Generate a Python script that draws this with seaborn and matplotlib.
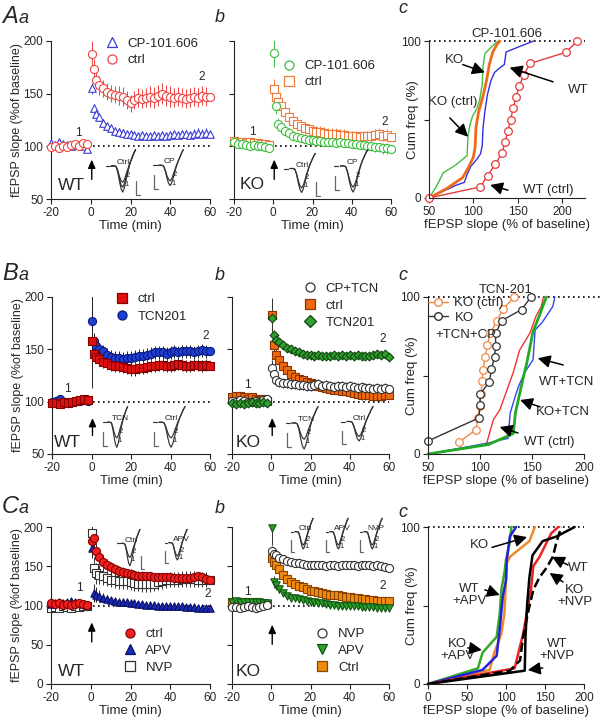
import numpy as np
import pandas as pd
import seaborn as sns
import matplotlib
matplotlib.use('Agg')
from matplotlib import pyplot as plt
from matplotlib.lines import Line2D

# ---------------- data: time courses (time in min, fEPSP slope in % of baseline) ----------------
T_BASE = [-20, -18, -16, -14, -12, -10, -8, -6, -4, -2]
T_POST = [0.5, 1.5, 2.5, 4, 6, 8, 10, 12, 14, 16, 18, 20, 22, 24, 26, 28, 30, 32, 34, 36, 38,
          40, 42, 44, 46, 48, 50, 52, 54, 56, 58, 60]
BASE_SEM = [2, 2, 2, 2, 2, 2, 2, 2, 2, 2]

# A a (WT): ctrl vs CP-101.606
Aa_ctrl_base = [99, 100, 98, 100, 99, 101, 102, 100, 103, 102]
Aa_ctrl_post = [188, 173, 163, 158, 155, 152, 150, 149, 148, 147, 144, 141, 144, 146, 145, 146,
                147, 146, 148, 150, 148, 147, 146, 147, 146, 145, 146, 147, 146, 148, 147, 147]
Aa_ctrl_sem = [12, 10, 9, 9, 8, 8, 8, 8, 9, 9, 9, 8, 9, 9, 9, 9, 10, 10, 10, 10, 10, 10, 9, 9,
               9, 9, 9, 9, 9, 9, 9, 9]
Aa_cp_base = [103, 101, 104, 102, 101, 100, 102, 101, 100, 97]
Aa_cp_post = [155, 136, 131, 128, 122, 119, 117, 115, 114, 113, 112, 112, 111, 110, 111, 110,
              110, 111, 110, 111, 110, 111, 112, 111, 112, 112, 111, 112, 113, 112, 113, 112]
Aa_cp_sem = [5, 4, 4, 3, 3, 3, 3, 3, 3, 3, 3, 3, 3, 3, 3, 3, 3, 3, 3, 3, 3, 3, 3, 3, 3, 3, 3,
             4, 4, 4, 4, 4]

# A b (KO)
Ab_cp_base = [104, 102, 102, 101, 100, 101, 100, 100, 99, 98]
Ab_cp_post = [189, 138, 121, 118, 115, 113, 110, 109, 108, 107, 106, 106, 105, 105, 104, 104,
              104, 103, 104, 103, 103, 102, 102, 101, 101, 100, 100, 99, 99, 98, 98, 97]
Ab_cp_sem = [14, 7, 6, 5, 4, 4, 4, 4, 4, 4, 4, 4, 4, 4, 4, 4, 4, 4, 4, 4, 4, 4, 4, 4, 4, 4, 4,
             4, 4, 5, 5, 5]
Ab_ctrl_base = [105, 104, 104, 103, 104, 103, 103, 102, 102, 101]
Ab_ctrl_post = [154, 147, 142, 138, 133, 128, 124, 121, 119, 117, 116, 115, 114, 114, 113, 112,
                112, 112, 111, 111, 110, 110, 110, 109, 110, 110, 110, 111, 112, 110, 111, 109]
Ab_ctrl_sem = [10, 8, 7, 6, 6, 5, 5, 5, 5, 5, 5, 5, 5, 5, 5, 5, 5, 5, 5, 5, 5, 5, 5, 5, 5, 5, 5,
               5, 5, 5, 5, 5]

# B a (WT): ctrl vs TCN201
Ba_ctrl_base = [99, 99, 98, 100, 99, 100, 101, 102, 103, 102]
Ba_ctrl_post = [158, 146, 143, 141, 138, 137, 135, 134, 134, 133, 132, 131, 131, 132, 132, 133,
                134, 134, 135, 135, 134, 134, 135, 136, 135, 134, 134, 135, 135, 134, 135, 134]
Ba_ctrl_sem = [45, 7, 6, 6, 6, 6, 6, 6, 6, 6, 6, 6, 6, 6, 6, 6, 6, 6, 6, 6, 6, 6, 6, 6, 6, 6, 6,
               6, 6, 6, 6, 6]
Ba_tcn_base = [100, 101, 103, 100, 99, 100, 101, 101, 102, 101]
Ba_tcn_post = [177, 158, 153, 150, 148, 145, 143, 142, 142, 141, 142, 142, 143, 144, 144, 145,
               146, 147, 147, 147, 146, 147, 148, 147, 148, 148, 148, 147, 148, 149, 148, 148]
Ba_tcn_sem = [28, 8, 7, 6, 6, 6, 6, 6, 6, 6, 6, 6, 6, 6, 6, 6, 6, 6, 6, 6, 6, 6, 6, 6, 6, 6, 6,
              6, 6, 6, 6, 6]

# B b (KO)
Bb_cptcn_base = [101, 100, 102, 101, 100, 100, 101, 100, 102, 103]
Bb_cptcn_post = [132, 126, 121, 119, 118, 118, 117, 117, 116, 116, 115, 115, 116, 117, 115, 116,
                 115, 114, 115, 115, 114, 115, 114, 113, 114, 113, 113, 112, 113, 112, 113, 112]
Bb_cptcn_sem = [8, 7, 6, 5, 5, 5, 5, 5, 5, 5, 5, 5, 5, 5, 5, 5, 5, 5, 5, 5, 5, 5, 5, 5, 5, 5, 5,
                5, 5, 5, 5, 5]
Bb_ctrl_base = [104, 105, 105, 104, 103, 104, 103, 102, 103, 101]
Bb_ctrl_post = [183, 154, 145, 140, 134, 130, 126, 124, 122, 121, 119, 118, 117, 115, 114, 113,
                112, 111, 111, 110, 110, 109, 108, 107, 106, 106, 106, 105, 105, 105, 106, 106]
Bb_ctrl_sem = [16, 8, 6, 5, 5, 5, 5, 5, 4, 4, 4, 4, 4, 4, 4, 4, 4, 4, 4, 4, 4, 4, 4, 4, 4, 4, 4,
               4, 4, 4, 4, 4]
Bb_tcn_base = [99, 98, 99, 98, 99, 100, 99, 99, 100, 99]
Bb_tcn_post = [180, 164, 159, 157, 154, 151, 150, 148, 147, 146, 145, 145, 144, 145, 144, 144,
               144, 145, 144, 145, 144, 145, 144, 145, 144, 144, 144, 145, 146, 145, 146, 143]
Bb_tcn_sem = [6, 4, 3, 3, 3, 3, 3, 3, 3, 3, 3, 3, 3, 3, 3, 3, 3, 3, 3, 3, 3, 3, 3, 3, 3, 3, 3,
              3, 3, 3, 3, 3]

# C a (WT): ctrl, APV, NVP
Ca_ctrl_base = [103, 102, 103, 101, 102, 101, 102, 103, 102, 101]
Ca_ctrl_post = [182, 186, 169, 162, 156, 152, 149, 146, 144, 143, 141, 140, 139, 138, 138, 137,
                137, 136, 136, 136, 136, 136, 135, 135, 135, 135, 135, 136, 137, 136, 134, 133]
Ca_ctrl_sem = [12, 12, 10, 9, 8, 7, 7, 6, 6, 6, 6, 6, 6, 6, 6, 6, 6, 6, 6, 6, 6, 6, 6, 6, 6, 6,
               6, 6, 6, 6, 6, 6]
Ca_apv_base = [102, 103, 104, 103, 104, 106, 104, 103, 102, 101]
Ca_apv_post = [173, 116, 114, 112, 110, 108, 107, 106, 105, 104, 104, 103, 103, 102, 102, 101,
               101, 101, 100, 100, 100, 100, 99, 99, 99, 98, 98, 98, 97, 97, 97, 97]
Ca_apv_sem = [12, 12, 10, 8, 6, 5, 4, 4, 3, 3, 3, 3, 3, 3, 3, 3, 3, 3, 3, 3, 3, 3, 3, 3, 3, 3,
              3, 3, 3, 3, 3, 3]
Ca_nvp_base = [97, 98, 97, 99, 98, 97, 99, 98, 100, 100]
Ca_nvp_post = [192, 148, 141, 139, 137, 135, 133, 132, 131, 131, 131, 130, 129, 128, 127, 127,
               127, 128, 130, 131, 132, 133, 133, 133, 134, 134, 134, 134, 133, 133, 133, 133]
Ca_nvp_sem = [12, 14, 13, 12, 11, 10, 10, 10, 10, 10, 10, 10, 10, 10, 10, 10, 10, 10, 10, 10,
              10, 10, 10, 10, 10, 10, 10, 10, 10, 10, 10, 10]

# C b (KO): NVP, APV, Ctrl
Cb_nvp_base = [98, 98, 97, 98, 99, 98, 97, 98, 99, 101]
Cb_nvp_post = [170, 166, 164, 161, 159, 157, 155, 154, 154, 153, 152, 152, 151, 151, 151, 150,
               151, 151, 150, 151, 152, 151, 151, 150, 151, 151, 151, 150, 151, 150, 149, 148]
Cb_nvp_sem = [6, 5, 5, 5, 5, 5, 5, 5, 5, 5, 5, 5, 5, 5, 5, 5, 5, 5, 5, 5, 5, 5, 5, 5, 5, 5, 5,
              5, 5, 5, 5, 5]
Cb_apv_base = [105, 106, 105, 104, 105, 104, 105, 104, 103, 103]
Cb_apv_post = [199, 130, 126, 121, 116, 112, 110, 109, 108, 107, 106, 104, 104, 103, 103, 102,
               101, 101, 100, 100, 100, 99, 99, 99, 98, 98, 98, 98, 97, 97, 97, 97]
Cb_apv_sem = [22, 8, 6, 5, 4, 4, 3, 3, 3, 3, 3, 3, 3, 3, 3, 3, 3, 3, 3, 3, 3, 3, 3, 3, 3, 3, 3,
              3, 3, 3, 3, 3]
Cb_ctrl_base = [104, 105, 104, 105, 104, 103, 104, 103, 103, 102]
Cb_ctrl_post = [160, 155, 151, 146, 139, 134, 130, 127, 125, 123, 121, 119, 118, 117, 116, 115,
                114, 113, 113, 112, 111, 111, 110, 109, 108, 108, 107, 107, 106, 106, 106, 106]
Cb_ctrl_sem = [10, 8, 7, 6, 6, 5, 5, 5, 5, 4, 4, 4, 4, 4, 4, 4, 4, 4, 4, 4, 4, 4, 4, 4, 4, 4, 4,
               4, 4, 4, 4, 4]

# ---------------- data: cumulative distributions (x = fEPSP slope %, y = cum freq %) ----------------
Ac_wt_ctrl_x = [50, 108, 116, 125, 132, 136, 139, 142, 145, 148, 152, 157, 164, 205, 217]
Ac_wt_ctrl_y = [0, 7.1, 14.3, 21.4, 28.6, 35.7, 42.9, 50.0, 57.1, 64.3, 71.4, 78.6, 85.7, 92.9, 100]
Ac_wt_cp_x = [50, 80, 90, 93, 97, 103, 108, 110, 111, 113, 116, 120, 124, 130, 135, 137, 150, 168]
Ac_wt_cp_y = [0, 8, 10, 15, 20, 24, 28, 33, 45, 55, 66, 75, 80, 83, 85, 93, 96, 100]
Ac_ko_cp_x = [50, 70, 88, 95, 100, 102, 103, 106, 111, 115, 118, 122, 127, 130]
Ac_ko_cp_y = [0, 6, 13, 20, 26, 32, 45, 55, 65, 75, 85, 93, 98, 100]
Ac_ko_ctrl_x = [50, 58, 66, 80, 93, 94, 96, 99, 104, 107, 110, 111, 113, 120, 128]
Ac_ko_ctrl_y = [0, 7, 16, 21, 27, 40, 46, 52, 57, 62, 72, 84, 92, 96, 100]

Bc_ko_ctrl_x = [80, 96, 98, 100, 101, 102, 103, 105, 107, 110, 116, 122, 133]
Bc_ko_ctrl_y = [7.7, 15.4, 23.1, 30.8, 38.5, 46.2, 53.8, 61.5, 69.2, 76.9, 84.6, 92.3, 100]
Bc_ko_tcncp_x = [50, 99, 100, 100, 109, 111, 114, 115, 115, 121, 140, 149]
Bc_ko_tcncp_y = [8.3, 23, 31, 38, 46, 54, 62, 69, 77, 85, 92, 100]
Bc_ko_tcn_x = [50, 108, 132, 134, 137, 141, 145, 151, 157, 162, 164]
Bc_ko_tcn_y = [0, 6, 13, 26, 35, 47, 58, 78, 88, 97, 100]
Bc_wt_tcn_x = [50, 108, 127, 129, 134, 137, 143, 151, 153, 160, 170, 172]
Bc_wt_tcn_y = [0, 7, 10, 26, 37, 43, 52, 60, 79, 84, 94, 100]
Bc_wt_ctrl_x = [50, 106, 113, 119, 125, 132, 138, 148, 154, 159, 161]
Bc_wt_ctrl_y = [0, 6, 22, 28, 39, 52, 66, 77, 88, 94, 100]

Cc_green_x = [0, 64, 70, 88, 92, 94, 98, 100, 104, 107]
Cc_green_y = [0, 10, 20, 30, 45, 60, 71, 79, 88, 100]
Cc_blue_x = [0, 70, 88, 92, 96, 100, 101, 105, 113]
Cc_blue_y = [0, 9, 18, 35, 56, 66, 79, 94, 100]
Cc_orange_x = [0, 79, 85, 94, 98, 101, 105, 130, 137]
Cc_orange_y = [0, 9, 20, 32, 45, 77, 81, 91, 100]
Cc_black_x = [0, 124, 125, 127, 130, 134, 147, 165, 188]
Cc_black_y = [0, 8.5, 30, 50, 68, 82, 91, 94, 100]
Cc_red_x = [0, 111, 122, 128, 132, 135, 143, 152, 158, 167]
Cc_red_y = [0, 10, 32, 49, 60, 75, 81, 90, 96, 100]
Cc_dash_x = [0, 105, 118, 122, 128, 135, 143, 152, 160, 165, 171]
Cc_dash_y = [0, 8.5, 15, 30, 45, 60, 68, 74, 81, 91, 100]

# example fEPSP traces for the insets (arbitrary units)
TR_X = [0, 1, 2, 3, 4, 5, 6, 7, 8, 9, 10, 11, 12, 13, 14, 15]
TR_SMALL = [0, 0, 0, -0.05, -0.3, -0.65, -0.9, -1.0, -0.85, -0.55, -0.25, 0.05, 0.3, 0.55, 0.8, 1.0]
TR_MID = [0, 0, 0, -0.05, -0.35, -0.8, -1.15, -1.3, -1.1, -0.75, -0.35, 0.0, 0.3, 0.55, 0.8, 1.0]
TR_BIG = [0, 0, 0, -0.05, -0.4, -0.95, -1.4, -1.6, -1.35, -0.9, -0.45, -0.05, 0.3, 0.55, 0.8, 1.0]

# ---------------- style ----------------
sns.set_style('ticks')
plt.rcParams['font.family'] = ['Liberation Sans', 'DejaVu Sans']
plt.rcParams['axes.linewidth'] = 0.8
plt.rcParams['axes.unicode_minus'] = False

fig = plt.figure(figsize=(6, 7.22), dpi=100)


def px_rect(l, r, t, b):
    return [l / 600, 1 - b / 722, (r - l) / 600, (b - t) / 722]


def style_axes(ax):
    sns.despine(ax=ax)
    for s in ['left', 'bottom']:
        ax.spines[s].set_color('#222222')
        ax.spines[s].set_linewidth(0.8)
    ax.tick_params(direction='out', length=3.5, width=0.8, labelsize=8.5, pad=2, color='#222222')
    ax.set_facecolor('none')


def time_panel(ax, groups, ylim, yticks, ylabel, arrow_y):
    style_axes(ax)
    ax.hlines(100, 1, 61, colors='k', linestyles=(0, (1, 2)), lw=1.2, zorder=1)
    for base, post, sem, marker, face, edge, ecol, size in groups:
        t = T_BASE + T_POST
        y = base + post
        e = BASE_SEM + sem
        ax.errorbar(t, y, yerr=e, fmt='none', ecolor=ecol, elinewidth=0.7, capsize=0, zorder=2)
        sns.scatterplot(x=t, y=y, ax=ax, marker=marker, s=size, color=face, edgecolor=edge,
                        linewidth=0.8, zorder=3, clip_on=False)
    ax.set_xlim(-20, 60)
    ax.set_ylim(*ylim)
    ax.set_xticks([-20, 0, 20, 40, 60])
    ax.set_yticks(yticks)
    ax.set_xlabel('Time (min)', fontsize=9.5, labelpad=1)
    if ylabel:
        ax.set_ylabel('fEPSP slope (%of baseline)', fontsize=9)
        ax.yaxis.set_label_coords(-0.175, 0.5)
    else:
        ax.set_yticklabels([])
        ax.set_ylabel('')
    ax.annotate('', xy=(0.5, arrow_y[1]), xytext=(0.5, arrow_y[0]),
                arrowprops=dict(arrowstyle='-|>,head_length=0.5,head_width=0.22', color='k', lw=1.0))


def legend(ax, entries, anchor, fs=9.5, spacing=0.3):
    handles = [Line2D([], [], marker=m, ls='none', mfc=f, mec=e, mew=0.9, ms=6.5) for m, f, e, _ in entries]
    labels = [lab for _, _, _, lab in entries]
    ax.legend(handles, labels, loc='upper left', bbox_to_anchor=anchor, frameon=False, fontsize=fs,
              borderpad=0, borderaxespad=0, handlelength=1.0, handletextpad=0.7, labelspacing=spacing)


def cum_panel(ax, xlim, xticks):
    style_axes(ax)
    ax.set_xlim(*xlim)
    ax.set_ylim(0, 100)
    ax.set_xticks(xticks)
    ax.set_yticks([0, 50, 100])
    ax.set_yticklabels(['0', '', '100'])
    ax.set_xlabel('fEPSP slope (% of baseline)', fontsize=9.5, labelpad=1)
    ax.set_ylabel('Cum freq (%)', fontsize=9.5)
    ax.yaxis.set_label_coords(-0.065, 0.5)


def cum_line(ax, xs, ys, color, lw, ls='-', marker=None):
    kw = {}
    if marker:
        kw = dict(marker=marker, mfc='white', mec=color, ms=5.5, mew=0.9)
    sns.lineplot(x=xs, y=ys, ax=ax, color=color, lw=lw, ls=ls, sort=False, estimator=None,
                 clip_on=False, **kw)


def arrow(ax, tail, head):
    ax.annotate('', xy=head, xytext=tail,
                arrowprops=dict(arrowstyle='-|>,head_length=0.75,head_width=0.38', color='k', lw=1.1,
                                shrinkA=0, shrinkB=0))


def inset(l, r, t, b, name, traces, bar_left, nums):
    iax = fig.add_axes(px_rect(l, r, t, b))
    iax.set_axis_off()
    for tr in traces:
        iax.plot(TR_X, tr, color='#333333', lw=0.85)
    iax.plot([-3.2, -1.2], [0, 0], color='#333333', lw=0.85)
    iax.set_xlim(-4, 19)
    iax.set_ylim(-1.9, 1.1)
    iax.text(3.2, 0.12, name, fontsize=6, color='#222222')
    if bar_left:
        iax.plot([-3, -3, -0.5], [-0.6, -1.5, -1.5], color='#666666', lw=0.9)
    else:
        iax.plot([15.5, 15.5, 18], [-0.9, -1.8, -1.8], color='#666666', lw=0.9)
    iax.text(7.8, -1.25, nums[0], fontsize=5.5, color='#222222')
    iax.text(8.6, -0.7, nums[1], fontsize=5.5, color='#222222')


# ---------------- axes ----------------
axAa = fig.add_axes(px_rect(51, 210, 41, 199))
axAb = fig.add_axes(px_rect(234, 391, 41, 199))
axAc = fig.add_axes(px_rect(429, 585, 41, 198))
axBa = fig.add_axes(px_rect(52, 210, 297, 454))
axBb = fig.add_axes(px_rect(232, 389, 297, 454))
axBc = fig.add_axes(px_rect(428, 584, 297, 454))
axCa = fig.add_axes(px_rect(51, 210, 527, 684))
axCb = fig.add_axes(px_rect(232, 389, 527, 684))
axCc = fig.add_axes(px_rect(428, 584, 527, 684))

AA_RED, AA_BLUE = '#ee4444', '#3a3ad8'
AB_GREEN, AB_ORANGE = '#3cbf3c', '#f07a3a'

# ---- A a ----
time_panel(axAa, [
    (Aa_cp_base, Aa_cp_post, Aa_cp_sem, '^', 'white', AA_BLUE, AA_BLUE, 30),
    (Aa_ctrl_base, Aa_ctrl_post, Aa_ctrl_sem, 'o', 'white', AA_RED, AA_RED, 34),
], (50, 200), [50, 100, 150, 200], True, (66, 90))
legend(axAa, [('^', 'white', AA_BLUE, 'CP-101.606'), ('o', 'white', AA_RED, 'ctrl')], (0.34, 1.02))
axAa.text(-6, 110, '1', fontsize=8.5, ha='center')
axAa.text(56, 163, '2', fontsize=8.5, ha='center')
axAa.text(-9.5, 63, 'WT', fontsize=12.5, ha='center', va='center')

# ---- A b ----
time_panel(axAb, [
    (Ab_ctrl_base, Ab_ctrl_post, Ab_ctrl_sem, 's', 'white', AB_ORANGE, AB_ORANGE, 30),
    (Ab_cp_base, Ab_cp_post, Ab_cp_sem, 'o', 'white', AB_GREEN, AB_GREEN, 34),
], (50, 200), [50, 100, 150, 200], False, (66, 90))
legend(axAb, [('o', 'white', AB_GREEN, 'CP-101.606'), ('s', 'white', AB_ORANGE, 'ctrl')], (0.306, 0.88))
axAb.text(-10.5, 111, '1', fontsize=8.5, ha='center')
axAb.text(57, 120, '2', fontsize=8.5, ha='center')
axAb.text(-11, 64, 'KO', fontsize=12.5, ha='center', va='center')

# ---- A c ----
cum_panel(axAc, (50, 226), [50, 100, 150, 200])
axAc.axhline(100, color='k', ls=(0, (1, 2)), lw=1.2, clip_on=False)
cum_line(axAc, Ac_ko_ctrl_x, Ac_ko_ctrl_y, '#44bb44', 1.0)
cum_line(axAc, Ac_wt_cp_x, Ac_wt_cp_y, '#3030dd', 1.0)
cum_line(axAc, Ac_ko_cp_x, Ac_ko_cp_y, '#f06a1a', 2.0)
cum_line(axAc, Ac_wt_ctrl_x, Ac_wt_ctrl_y, '#e83a3a', 1.0, marker='o')
axAc.set_title('CP-101.606', fontsize=9.5, pad=3)
axAc.text(79, 88, 'KO', fontsize=9.5, ha='center', va='center')
arrow(axAc, (88, 85), (113, 80))
axAc.text(77, 61, 'KO (ctrl)', fontsize=9.5, ha='center', va='center')
arrow(axAc, (73.5, 51), (94, 39))
axAc.text(218, 69, 'WT', fontsize=9.5, ha='center', va='center')
arrow(axAc, (190, 74), (141, 83))
axAc.text(184, 5, 'WT (ctrl)', fontsize=9.5, ha='center', va='center')
arrow(axAc, (139, 5), (119, 8.3))

# ---- B a ----
time_panel(axBa, [
    (Ba_tcn_base, Ba_tcn_post, Ba_tcn_sem, 'o', '#1f3fd0', '#0a1a80', '#222222', 34),
    (Ba_ctrl_base, Ba_ctrl_post, Ba_ctrl_sem, 's', '#dd1111', '#880000', '#222222', 30),
], (50, 200), [50, 100, 150, 200], True, (65, 87))
legend(axBa, [('s', '#dd1111', '#880000', 'ctrl'), ('o', '#1f3fd0', '#0a1a80', 'TCN201')], (0.40, 1.025),
       spacing=0.4)
axBa.text(-12, 109, '1', fontsize=8.5, ha='center')
axBa.text(58, 160, '2', fontsize=8.5, ha='center')
axBa.text(-12, 61, 'WT', fontsize=12.5, ha='center', va='center')

# ---- B b ----
time_panel(axBb, [
    (Bb_ctrl_base, Bb_ctrl_post, Bb_ctrl_sem, 's', '#ee6a10', '#8a3300', '#333333', 30),
    (Bb_cptcn_base, Bb_cptcn_post, Bb_cptcn_sem, 'o', 'white', '#333333', '#333333', 34),
    (Bb_tcn_base, Bb_tcn_post, Bb_tcn_sem, 'D', '#2ea02e', '#114411', '#333333', 20),
], (50, 200), [50, 100, 150, 200], False, (65, 87))
legend(axBb, [('o', 'white', '#333333', 'CP+TCN'), ('s', '#ee6a10', '#8a3300', 'ctrl'),
              ('D', '#2ea02e', '#114411', 'TCN201')], (0.452, 1.09), spacing=0.35)
axBb.text(-12, 113, '1', fontsize=8.5, ha='center')
axBb.text(57, 157, '2', fontsize=8.5, ha='center')
axBb.text(-12, 61, 'KO', fontsize=12.5, ha='center', va='center')

# ---- B c ----
cum_panel(axBc, (50, 200), [50, 100, 150, 200])
axBc.hlines(100, 50, 215, colors='k', linestyles=(0, (1, 2)), lw=1.2, clip_on=False)
cum_line(axBc, Bc_wt_ctrl_x, Bc_wt_ctrl_y, '#ee3333', 1.0)
cum_line(axBc, Bc_wt_tcn_x, Bc_wt_tcn_y, '#3344ee', 1.0)
cum_line(axBc, Bc_ko_tcn_x, Bc_ko_tcn_y, '#22aa22', 2.0)
cum_line(axBc, Bc_ko_ctrl_x, Bc_ko_ctrl_y, '#f08a4a', 1.0, marker='o')
cum_line(axBc, Bc_ko_tcncp_x, Bc_ko_tcncp_y, '#333333', 1.0, marker='o')
axBc.set_title('TCN-201', fontsize=9.5, pad=3)
hb = [Line2D([], [], color='#f08a4a', lw=1, marker='o', mfc='white', mec='#f08a4a', ms=5.5),
      Line2D([], [], color='#333333', lw=1, marker='o', mfc='white', mec='#333333', ms=5.5)]
axBc.legend(hb, ['KO (ctrl)', 'KO'], loc='upper left', bbox_to_anchor=(0.0, 1.0), frameon=False,
            fontsize=9.5, borderpad=0, borderaxespad=0, handlelength=1.5, handletextpad=0.5,
            labelspacing=0.2)
axBc.text(86, 76, '+TCN+CP', fontsize=9.5, ha='center', va='center')
axBc.text(183, 46, 'WT+TCN', fontsize=9.5, ha='center', va='center')
arrow(axBc, (180, 56.7), (155.5, 61))
axBc.text(180, 27, 'KO+TCN', fontsize=9.5, ha='center', va='center')
arrow(axBc, (157.7, 30), (138.5, 34.4))
axBc.text(167, 7.6, 'WT (ctrl)', fontsize=9.5, ha='center', va='center')
arrow(axBc, (136.5, 13.4), (119, 17.2))

# ---- C a ----
time_panel(axCa, [
    (Ca_nvp_base, Ca_nvp_post, Ca_nvp_sem, 's', 'white', '#333333', '#333333', 28),
    (Ca_apv_base, Ca_apv_post, Ca_apv_sem, '^', '#1a2ab8', '#0a1060', '#222222', 28),
    (Ca_ctrl_base, Ca_ctrl_post, Ca_ctrl_sem, 'o', '#ee2020', '#880000', '#222222', 34),
], (0, 200), [0, 50, 100, 150, 200], True, (50, 82))
legend(axCa, [('o', '#ee2020', '#880000', 'ctrl'), ('^', '#1a2ab8', '#0a1060', 'APV'),
              ('s', 'white', '#333333', 'NVP')], (0.453, 0.357), spacing=0.35)
axCa.text(-5.5, 118, '1', fontsize=8.5, ha='center')
axCa.text(59, 111, '2', fontsize=8.5, ha='center')
axCa.text(-9.5, 16, 'WT', fontsize=12.5, ha='center', va='center')

# ---- C b ----
time_panel(axCb, [
    (Cb_ctrl_base, Cb_ctrl_post, Cb_ctrl_sem, 's', '#f08a10', '#8a4400', '#333333', 30),
    (Cb_apv_base, Cb_apv_post, Cb_apv_sem, 'v', '#2aa02a', '#115511', '#333333', 28),
    (Cb_nvp_base, Cb_nvp_post, Cb_nvp_sem, 'o', 'white', '#333333', '#333333', 34),
], (0, 200), [0, 50, 100, 150, 200], False, (47, 79))
legend(axCb, [('o', 'white', '#333333', 'NVP'), ('v', '#2aa02a', '#115511', 'APV'),
              ('s', '#f08a10', '#8a4400', 'Ctrl')], (0.532, 0.357), spacing=0.35)
axCb.text(-12, 114, '1', fontsize=8.5, ha='center')
axCb.text(56.8, 121, '2', fontsize=8.5, ha='center')
axCb.text(-12, 16, 'KO', fontsize=12.5, ha='center', va='center')

# ---- C c ----
cum_panel(axCc, (0, 200), [0, 50, 100, 150, 200])
axCc.axhline(100, color='k', ls=(0, (1, 2)), lw=1.2, clip_on=False)
cum_line(axCc, Cc_orange_x, Cc_orange_y, '#f08a2a', 1.8)
cum_line(axCc, Cc_green_x, Cc_green_y, '#33aa22', 1.8)
cum_line(axCc, Cc_blue_x, Cc_blue_y, '#2222dd', 1.8)
cum_line(axCc, Cc_red_x, Cc_red_y, '#ee2222', 1.8)
cum_line(axCc, Cc_dash_x, Cc_dash_y, 'k', 1.8, ls='--')
cum_line(axCc, Cc_black_x, Cc_black_y, 'k', 1.8)
axCc.text(66, 88.5, 'KO', fontsize=9.5, ha='center', va='center')
arrow(axCc, (82, 87), (127, 93.6))
axCc.text(53, 57, 'WT\n+APV', fontsize=9.5, ha='center', va='center', linespacing=1.0)
arrow(axCc, (73, 60), (92, 56.7))
axCc.text(38, 21.5, 'KO\n+APV', fontsize=9.5, ha='center', va='center', linespacing=1.0)
arrow(axCc, (51, 23), (69, 21.7))
axCc.text(192, 74, 'WT', fontsize=9.5, ha='center', va='center')
arrow(axCc, (179.5, 75.8), (159, 81))
axCc.text(188, 56, 'KO\n+NVP', fontsize=9.5, ha='center', va='center', linespacing=1.0)
arrow(axCc, (173, 65), (156, 70.7))
axCc.text(165, 21.5, 'WT\n+NVP', fontsize=9.5, ha='center', va='center', linespacing=1.0)
arrow(axCc, (147, 10.2), (128, 8.9))

# ---------------- trace insets ----------------
inset(105, 142, 148, 197, 'Ctrl', [TR_SMALL, TR_MID, TR_BIG], False, ('1', '2'))
inset(152, 190, 148, 195, 'CP', [TR_SMALL, TR_MID], True, ('1', '2'))
inset(283, 322, 152, 197, 'Ctrl', [TR_MID, TR_BIG], False, ('1', '2'))
inset(333, 375, 148, 197, 'CP', [TR_MID, TR_BIG], True, ('1', '2'))
inset(102, 133, 405, 452, 'TCN', [TR_SMALL, TR_BIG], True, ('1', '2'))
inset(152, 192, 405, 452, 'Ctrl', [TR_SMALL, TR_BIG], True, ('1', '2'))
inset(285, 325, 405, 454, 'TCN', [TR_SMALL, TR_BIG], True, ('1', '2'))
inset(340, 380, 405, 450, 'Ctrl', [TR_SMALL, TR_MID], True, ('1', '2'))
inset(116, 145, 528, 570, 'Ctrl', [TR_SMALL, TR_BIG], False, ('1', '2'))
inset(164, 192, 528, 568, 'APV', [TR_SMALL, TR_MID], True, ('1', '2'))
inset(290, 318, 517, 557, 'Ctrl', [TR_SMALL, TR_MID], True, ('1', '2'))
inset(325, 353, 517, 557, 'APV', [TR_SMALL, TR_MID], True, ('1', '2'))
inset(359, 387, 517, 557, 'NVP', [TR_SMALL, TR_MID], True, ('1', '2'))

# ---------------- panel letters ----------------
for big, y in [('A', 23), ('B', 280), ('C', 513)]:
    fig.text(2 / 600, 1 - y / 722, big, fontsize=17, style='italic', va='baseline')
    fig.text(19 / 600, 1 - y / 722, 'a', fontsize=13, style='italic', va='baseline')
for y in [22, 280, 513]:
    fig.text(215 / 600, 1 - y / 722, 'b', fontsize=13, style='italic', va='baseline')
for y in [13, 280, 517]:
    fig.text(398 / 600, 1 - y / 722, 'c', fontsize=13, style='italic', va='baseline')

plt.savefig('out.png', dpi=100)
